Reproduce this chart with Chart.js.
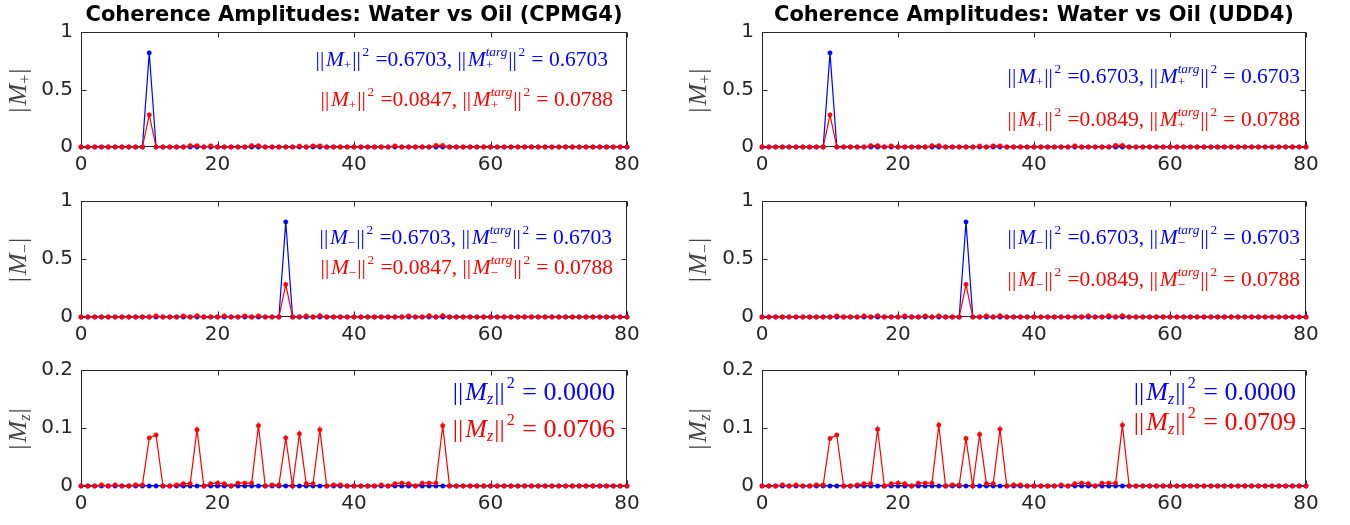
<!DOCTYPE html>
<html>
<head>
<meta charset="utf-8">
<script src="https://cdn.jsdelivr.net/npm/chart.js@4/dist/chart.umd.min.js"></script>
<style>
  body { margin: 0; background: #fff; width: 1350px; height: 525px; position: relative; overflow: hidden; }
  canvas { position: absolute; }
</style>
</head>
<body>
<canvas id="c0"></canvas>
<canvas id="c1"></canvas>
<canvas id="c2"></canvas>
<canvas id="c3"></canvas>
<canvas id="c4"></canvas>
<canvas id="c5"></canvas>
<script>
const cpmgPlusWater = [0,0,0,0,0,0,0,0,0,0, 0.82,0,0,0,0,0,0,0,0,0, 0,0,0,0,0,0,0,0,0,0, 0,0,0,0,0,0,0,0,0,0, 0,0,0,0,0,0,0,0,0,0, 0,0,0,0,0,0,0,0,0,0, 0,0,0,0,0,0,0,0,0,0, 0,0,0,0,0,0,0,0,0,0, 0];
const cpmgPlusOil = [0,0,0,0,0,0,0,0,0,0, 0.28,0,0,0,0,0,0.012,0.012,0,0.01, 0,0,0,0,0,0.012,0.012,0,0,0, 0,0,0.008,0,0.01,0.01,0,0,0,0, 0,0,0,0,0,0,0.01,0,0,0, 0,0,0.014,0.014,0,0,0,0,0,0, 0,0,0,0,0,0,0,0,0,0, 0,0,0,0,0,0,0,0,0,0, 0];
const cpmgMinusWater = [0,0,0,0,0,0,0,0,0,0, 0,0,0,0,0,0,0,0,0,0, 0,0,0,0,0,0,0,0,0,0, 0.82,0,0,0,0,0,0,0,0,0, 0,0,0,0,0,0,0,0,0,0, 0,0,0,0,0,0,0,0,0,0, 0,0,0,0,0,0,0,0,0,0, 0,0,0,0,0,0,0,0,0,0, 0];
const cpmgMinusOil = [0,0,0,0,0,0,0,0,0,0, 0,0.01,0,0,0,0.01,0,0.012,0,0, 0,0.01,0,0,0.01,0,0.01,0,0,0, 0.28,0,0,0.01,0,0.012,0,0,0,0, 0,0,0,0,0,0,0,0,0.01,0, 0,0.012,0,0.012,0,0,0,0,0,0, 0,0,0,0,0,0,0,0,0,0, 0,0,0,0,0,0,0,0,0,0, 0];
const cpmgZWater = [0,0,0,0,0,0,0,0,0,0, 0,0,0,0,0,0,0,0,0,0, 0,0,0,0,0,0,0,0,0,0, 0,0,0,0,0,0,0,0,0,0, 0,0,0,0,0,0,0,0,0,0, 0,0,0,0,0,0,0,0,0,0, 0,0,0,0,0,0,0,0,0,0, 0,0,0,0,0,0,0,0,0,0, 0];
const cpmgZOil = [0,0,0,0.002,0,0.002,0,0,0.002,0.002, 0.083,0.088,0,0,0.002,0.004,0.004,0.097,0,0.004, 0.005,0.004,0,0.005,0.005,0.005,0.104,0,0.002,0.002, 0.083,0,0.09,0.004,0.004,0.097,0,0.002,0.002,0, 0,0,0,0,0.002,0,0.004,0.005,0.004,0, 0.005,0.005,0.005,0.104,0,0,0,0,0,0, 0,0,0,0,0,0,0,0,0,0, 0,0,0,0,0,0,0,0,0,0, 0];

const uddPlusWater = [0,0,0,0,0,0,0,0,0,0, 0.82,0,0,0,0,0,0,0,0,0, 0,0,0,0,0,0,0,0,0,0, 0,0,0,0,0,0,0,0,0,0, 0,0,0,0,0,0,0,0,0,0, 0,0,0,0,0,0,0,0,0,0, 0,0,0,0,0,0,0,0,0,0, 0,0,0,0,0,0,0,0,0,0, 0];
const uddPlusOil = [0,0,0,0,0,0,0,0,0,0, 0.28,0,0,0,0,0,0.012,0.012,0,0.01, 0,0,0,0,0,0.012,0.012,0,0,0, 0,0,0.008,0,0.01,0.01,0,0,0,0, 0,0,0,0,0,0,0.01,0,0,0, 0,0,0.014,0.014,0,0,0,0,0,0, 0,0,0,0,0,0,0,0,0,0, 0,0,0,0,0,0,0,0,0,0, 0];
const uddMinusWater = [0,0,0,0,0,0,0,0,0,0, 0,0,0,0,0,0,0,0,0,0, 0,0,0,0,0,0,0,0,0,0, 0.82,0,0,0,0,0,0,0,0,0, 0,0,0,0,0,0,0,0,0,0, 0,0,0,0,0,0,0,0,0,0, 0,0,0,0,0,0,0,0,0,0, 0,0,0,0,0,0,0,0,0,0, 0];
const uddMinusOil = [0,0,0,0,0,0,0,0,0,0, 0,0.01,0,0,0,0.01,0,0.012,0,0, 0,0.01,0,0,0.01,0,0.01,0,0,0, 0.28,0,0,0.01,0,0.012,0,0,0,0, 0,0,0,0,0,0,0,0,0.01,0, 0,0.012,0,0.012,0,0,0,0,0,0, 0,0,0,0,0,0,0,0,0,0, 0,0,0,0,0,0,0,0,0,0, 0];
const uddZWater = [0,0,0,0,0,0,0,0,0,0, 0,0,0,0,0,0,0,0,0,0, 0,0,0,0,0,0,0,0,0,0, 0,0,0,0,0,0,0,0,0,0, 0,0,0,0,0,0,0,0,0,0, 0,0,0,0,0,0,0,0,0,0, 0,0,0,0,0,0,0,0,0,0, 0,0,0,0,0,0,0,0,0,0, 0];
const uddZOil = [0,0,0,0.002,0,0.002,0,0,0.002,0.002, 0.082,0.088,0,0,0.002,0.004,0.004,0.098,0,0.004, 0.005,0.004,0,0.005,0.005,0.005,0.105,0,0.002,0.002, 0.082,0,0.089,0.004,0.004,0.098,0,0.002,0.002,0, 0,0,0,0,0.002,0,0.004,0.005,0.004,0, 0.005,0.005,0.005,0.105,0,0,0,0,0,0, 0,0,0,0,0,0,0,0,0,0, 0,0,0,0,0,0,0,0,0,0, 0];

const xTickValues = [0, 20, 40, 60, 80];
const pmTickValues = [0, 0.5, 1];
const zTickValues = [0, 0.1, 0.2];

const MATH_FONT = "Liberation Serif";
const AXIS_COLOR = "#262626";
const BLUE = "#0000ff";
const RED = "#ff0000";

// math-ish text: pieces of [text, kind, stackOnPrevious]
// kind: r roman, i italic, _r/_i subscript, ^r/^i superscript
function layoutMath(ctx, pieces, size) {
  let x = 0, prevStart = 0, prevEnd = 0;
  const items = [];
  for (const [t, k, stack] of pieces) {
    const script = k[0] === "_" || k[0] === "^";
    const s = script ? size * 0.62 : size;
    const font = (k.endsWith("i") ? "italic " : "") + s.toFixed(1) + "px '" + MATH_FONT + "'";
    ctx.font = font;
    const w = ctx.measureText(t).width + (t === "|" || t === "||" ? size * 0.08 : 0) + (script ? size * 0.04 : 0);
    const start = stack ? prevStart : x;
    const dy = k[0] === "_" ? size * 0.25 : k[0] === "^" ? -size * 0.34 : 0;
    items.push({ t, font, x: start, dy });
    const end = stack ? Math.max(prevEnd, start + w) : start + w;
    prevStart = start;
    prevEnd = end;
    x = end;
  }
  return { items, width: x };
}

function drawMath(ctx, pieces, x, y, size, color, align) {
  const lay = layoutMath(ctx, pieces, size);
  const x0 = align === "right" ? x - lay.width : align === "center" ? x - lay.width / 2 : x;
  ctx.fillStyle = color;
  ctx.textBaseline = "middle";
  ctx.textAlign = "left";
  for (const it of lay.items) {
    ctx.font = it.font;
    if (it.t === "||") {
      // spread the double bar a little, like \| in TeX
      ctx.fillText("|", x0 + it.x, y + it.dy);
      ctx.fillText("|", x0 + it.x + size * 0.2, y + it.dy);
    } else {
      ctx.fillText(it.t, x0 + it.x, y + it.dy);
    }
  }
}

function subPiece(sym) {
  return sym === "z" ? [sym, "_i"] : [sym, "_r"];
}

function normNote(sym, val, targ) {
  const p = [["||", "r"], ["M", "i"], subPiece(sym), ["||", "r"], ["2", "^r"]];
  if (targ === undefined) return p.concat([[" = " + val, "r"]]);
  const s = subPiece(sym);
  return p.concat([
    [" =" + val + ", ", "r"],
    ["||", "r"], ["M", "i"], ["targ", "^i"], [s[0], s[1], true],
    ["||", "r"], ["2", "^r"], [" = " + targ, "r"],
  ]);
}

const matlabAxes = {
  id: "matlabAxes",
  beforeDatasetsDraw(chart) {
    const { ctx, chartArea: a, scales } = chart;
    const l = Math.round(a.left) + 0.5, r = Math.round(a.right) - 0.5;
    const t = Math.round(a.top) + 0.5, b = Math.round(a.bottom) - 0.5;
    ctx.save();
    ctx.strokeStyle = AXIS_COLOR;
    ctx.lineWidth = 1;
    ctx.strokeRect(l, t, r - l, b - t);
    ctx.beginPath();
    scales.x.ticks.forEach((tk) => {
      const px = Math.round(scales.x.getPixelForValue(tk.value)) + 0.5;
      ctx.moveTo(px, b); ctx.lineTo(px, b - 5);
      ctx.moveTo(px, t); ctx.lineTo(px, t + 5);
    });
    scales.y.ticks.forEach((tk) => {
      const py = Math.round(scales.y.getPixelForValue(tk.value)) + 0.5;
      ctx.moveTo(l, py); ctx.lineTo(l + 5, py);
      ctx.moveTo(r, py); ctx.lineTo(r - 5, py);
    });
    ctx.stroke();
    ctx.restore();
  },
  afterDraw(chart, args, opts) {
    const { ctx, chartArea: a } = chart;
    ctx.save();
    (opts.notes || []).forEach((n) => {
      drawMath(ctx, n.pieces, n.x, n.y, n.size, n.color, "right");
    });
    if (opts.yLabel) {
      ctx.translate(opts.yLabelX, (a.top + a.bottom) / 2);
      ctx.rotate(-Math.PI / 2);
      drawMath(ctx, opts.yLabel, 0, 0, 26, "#444444", "center");
    }
    ctx.restore();
  },
};

const plusLabel = [["|", "r"], ["M", "i"], ["+", "_r"], ["|", "r"]];
const minusLabel = [["|", "r"], ["M", "i"], ["\u2212", "_r"], ["|", "r"]];
const zLabel = [["|", "r"], ["M", "i"], ["z", "_i"], ["|", "r"]];

const NOTE = 21.5;
const NOTE_Z = 26;

const panels = [
  { id: "c0", left: 0, top: 0, w: 660, h: 175, plot: [81, 627, 32, 147],
    water: cpmgPlusWater, oil: cpmgPlusOil, yTicks: pmTickValues,
    title: "Coherence Amplitudes: Water vs Oil (CPMG4)", yLabel: plusLabel,
    notes: [
      { pieces: normNote("+", "0.6703", "0.6703"), x: 608, y: 60, size: NOTE, color: BLUE },
      { pieces: normNote("+", "0.0847", "0.0788"), x: 613, y: 100, size: NOTE, color: RED },
    ] },
  { id: "c1", left: 0, top: 172, w: 660, h: 173, plot: [81, 627, 201, 317],
    water: cpmgMinusWater, oil: cpmgMinusOil, yTicks: pmTickValues, yLabel: minusLabel,
    notes: [
      { pieces: normNote("\u2212", "0.6703", "0.6703"), x: 612, y: 238, size: NOTE, color: BLUE },
      { pieces: normNote("\u2212", "0.0847", "0.0788"), x: 613, y: 268, size: NOTE, color: RED },
    ] },
  { id: "c2", left: 0, top: 342, w: 660, h: 183, plot: [81, 627, 370, 486],
    water: cpmgZWater, oil: cpmgZOil, yTicks: zTickValues, yLabel: zLabel,
    notes: [
      { pieces: normNote("z", "0.0000"), x: 615, y: 393, size: NOTE_Z, color: BLUE },
      { pieces: normNote("z", "0.0706"), x: 615, y: 430, size: NOTE_Z, color: RED },
    ] },
  { id: "c3", left: 680, top: 0, w: 670, h: 175, plot: [762, 1306, 32, 147],
    water: uddPlusWater, oil: uddPlusOil, yTicks: pmTickValues,
    title: "Coherence Amplitudes: Water vs Oil (UDD4)", yLabel: plusLabel,
    notes: [
      { pieces: normNote("+", "0.6703", "0.6703"), x: 1300, y: 77, size: NOTE, color: BLUE },
      { pieces: normNote("+", "0.0849", "0.0788"), x: 1300, y: 120, size: NOTE, color: RED },
    ] },
  { id: "c4", left: 680, top: 172, w: 670, h: 173, plot: [762, 1306, 201, 317],
    water: uddMinusWater, oil: uddMinusOil, yTicks: pmTickValues, yLabel: minusLabel,
    notes: [
      { pieces: normNote("\u2212", "0.6703", "0.6703"), x: 1300, y: 238, size: NOTE, color: BLUE },
      { pieces: normNote("\u2212", "0.0849", "0.0788"), x: 1300, y: 280, size: NOTE, color: RED },
    ] },
  { id: "c5", left: 680, top: 342, w: 670, h: 183, plot: [762, 1306, 370, 486],
    water: uddZWater, oil: uddZOil, yTicks: zTickValues, yLabel: zLabel,
    notes: [
      { pieces: normNote("z", "0.0000"), x: 1296, y: 393, size: NOTE_Z, color: BLUE },
      { pieces: normNote("z", "0.0709"), x: 1296, y: 423, size: NOTE_Z, color: RED },
    ] },
];

function toPoints(values) {
  return values.map((v, i) => ({ x: i, y: v }));
}

function series(values, color) {
  return {
    data: toPoints(values),
    borderColor: color,
    backgroundColor: color,
    borderWidth: 1.2,
    pointRadius: 2.2,
    pointBorderWidth: 0.5,
    pointHoverRadius: 2.2,
    clip: 6,
  };
}

panels.forEach((p) => {
  const canvas = document.getElementById(p.id);
  canvas.width = p.w;
  canvas.height = p.h;
  canvas.style.left = p.left + "px";
  canvas.style.top = p.top + "px";
  const [pl, pr, pt, pb] = p.plot;
  const tickFont = { family: "DejaVu Sans", size: 20 };

  // notes are given in page coordinates
  const notes = p.notes.map((n) => Object.assign({}, n, { x: n.x - p.left, y: n.y - p.top }));

  new Chart(canvas.getContext("2d"), {
    type: "line",
    plugins: [matlabAxes],
    data: { datasets: [series(p.oil, RED), series(p.water, BLUE)] },
    options: {
      responsive: false,
      animation: false,
      devicePixelRatio: 1,
      layout: { padding: { left: 0, right: p.left + p.w - pr, top: p.title ? 0 : pt - p.top, bottom: 0 } },
      plugins: {
        legend: { display: false },
        tooltip: { enabled: false },
        title: {
          display: !!p.title,
          text: p.title || "",
          fullSize: false,
          color: "#000",
          font: { family: "DejaVu Sans", size: 21, weight: "bold" },
          padding: { top: 3, bottom: 4 },
        },
        matlabAxes: { notes, yLabel: p.yLabel, yLabelX: 19 },
      },
      scales: {
        x: {
          type: "linear",
          min: 0,
          max: 80,
          grid: { display: false, drawTicks: false },
          border: { display: false },
          afterBuildTicks: (s) => { s.ticks = xTickValues.map((v) => ({ value: v })); },
          afterFit: (s) => { s.height = p.top + p.h - pb; },
          ticks: { color: AXIS_COLOR, font: tickFont, padding: 6, maxRotation: 0, callback: (v) => String(v) },
        },
        y: {
          min: 0,
          max: p.yTicks[p.yTicks.length - 1],
          grid: { display: false, drawTicks: false },
          border: { display: false },
          afterBuildTicks: (s) => { s.ticks = p.yTicks.map((v) => ({ value: v })); },
          afterFit: (s) => { s.width = pl - p.left; },
          ticks: { color: AXIS_COLOR, font: tickFont, padding: 8, callback: (v) => String(v) },
        },
      },
    },
  });
});
</script>
</body>
</html>
